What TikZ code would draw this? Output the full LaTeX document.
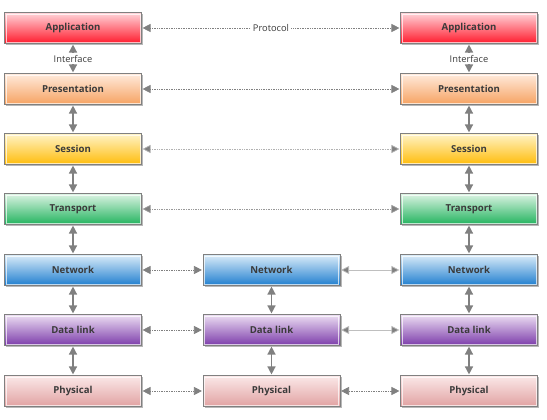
\documentclass[tikz,border=0pt]{standalone}
\usepackage{fontspec}
\setmainfont{Open Sans}
\usetikzlibrary{shadows,arrows.meta}
\definecolor{txt}{HTML}{3A3A3A}
\definecolor{arr}{HTML}{808080}
\tikzset{
  layer/.style n args={2}{draw=arr, line width=0.9pt, minimum width=137pt, minimum height=31pt,
    top color=#1, bottom color=#2, inner sep=0pt,
    font=\fontsize{9.6}{10}\selectfont\bfseries, text=txt,
    drop shadow={shadow xshift=1.6pt, shadow yshift=-1.6pt, fill=black!35, opacity=0.8},
    path picture={\draw[white, opacity=0.7, line width=0.8pt]
      ([shift={(1.5pt,-1.5pt)}]path picture bounding box.north west) rectangle
      ([shift={(-1.5pt,1.5pt)}]path picture bounding box.south east);}},
  tipstyle/.style={{Triangle[length=8pt,width=8pt,fill=arr]}-{Triangle[length=8pt,width=8pt,fill=arr]}},
  link/.style={arr, line width=1.4pt, tipstyle, shorten <=0.6pt, shorten >=0.6pt},
  hdot/.style={arr, line width=0.7pt, densely dotted, tipstyle, shorten <=0.6pt, shorten >=0.6pt},
  hlight/.style={hdot, draw=black!30},
  hsolid/.style={draw=black!25, line width=0.7pt, tipstyle, shorten <=0.6pt, shorten >=0.6pt},
  lbl/.style={font=\fontsize{9.3}{10}\selectfont, text=txt, fill=white, inner sep=1.5pt}
}
\begin{document}
\begin{tikzpicture}[x=1pt,y=-1pt]
\useasboundingbox (0,0) rectangle (547,420);
% colours
\definecolor{appB}{HTML}{FF1A2C}\definecolor{appT}{HTML}{FFD6DB}
\definecolor{preT}{HTML}{FFEBDD}\definecolor{preB}{HTML}{F6A261}
\definecolor{sesT}{HTML}{FFF4C8}\definecolor{sesB}{HTML}{FFBC0A}
\definecolor{traT}{HTML}{DDF4E4}\definecolor{traB}{HTML}{22B35E}
\definecolor{netT}{HTML}{DCEDF9}\definecolor{netB}{HTML}{1F7ECF}
\definecolor{datT}{HTML}{EDDFF3}\definecolor{datB}{HTML}{7B3BAA}
\definecolor{phyT}{HTML}{FBE9E9}\definecolor{phyB}{HTML}{E1A2A2}
% left column
\node[layer={appT}{appB}] (la) at (73,28) {Application};
\node[layer={preT}{preB}] (lp) at (73,89) {Presentation};
\node[layer={sesT}{sesB}] (ls) at (73,149) {Session};
\node[layer={traT}{traB}] (lt) at (73,209) {Transport};
\node[layer={netT}{netB}] (ln) at (73,270) {Network};
\node[layer={datT}{datB}] (ld) at (73,330) {Data link};
\node[layer={phyT}{phyB}] (lh) at (73,391) {Physical};
% middle column
\node[layer={netT}{netB}] (mn) at (271.5,270) {Network};
\node[layer={datT}{datB}] (md) at (271.5,330) {Data link};
\node[layer={phyT}{phyB}] (mh) at (271.5,391) {Physical};
% right column
\node[layer={appT}{appB}] (ra) at (469,28) {Application};
\node[layer={preT}{preB}] (rp) at (469,89) {Presentation};
\node[layer={sesT}{sesB}] (rs) at (469,149) {Session};
\node[layer={traT}{traB}] (rt) at (469,209) {Transport};
\node[layer={netT}{netB}] (rn) at (469,270) {Network};
\node[layer={datT}{datB}] (rd) at (469,330) {Data link};
\node[layer={phyT}{phyB}] (rh) at (469,391) {Physical};
% vertical links
\foreach \c in {l,r}{
  \draw[link] (\c a) -- node[lbl]{Interface} (\c p);
  \draw[link] (\c p) -- (\c s);
  \draw[link] (\c s) -- (\c t);
  \draw[link] (\c t) -- (\c n);
  \draw[link] (\c n) -- (\c d);
  \draw[link] (\c d) -- (\c h);
}
\draw[link] (mn) -- (md);
\draw[link] (md) -- (mh);
% horizontal links
\draw[hdot] (la) -- node[lbl]{Protocol} (ra);
\draw[hdot] (lp) -- (rp);
\draw[hlight] (ls) -- (rs);
\draw[hdot, draw=black!40] (lt) -- (rt);
\draw[hdot] (ln) -- (mn);
\draw[hsolid] (mn) -- (rn);
\draw[hdot] (ld) -- (md);
\draw[hsolid] (md) -- (rd);
\draw[hdot] (lh) -- (mh);
\draw[hdot] (mh) -- (rh);
\end{tikzpicture}
\end{document}
